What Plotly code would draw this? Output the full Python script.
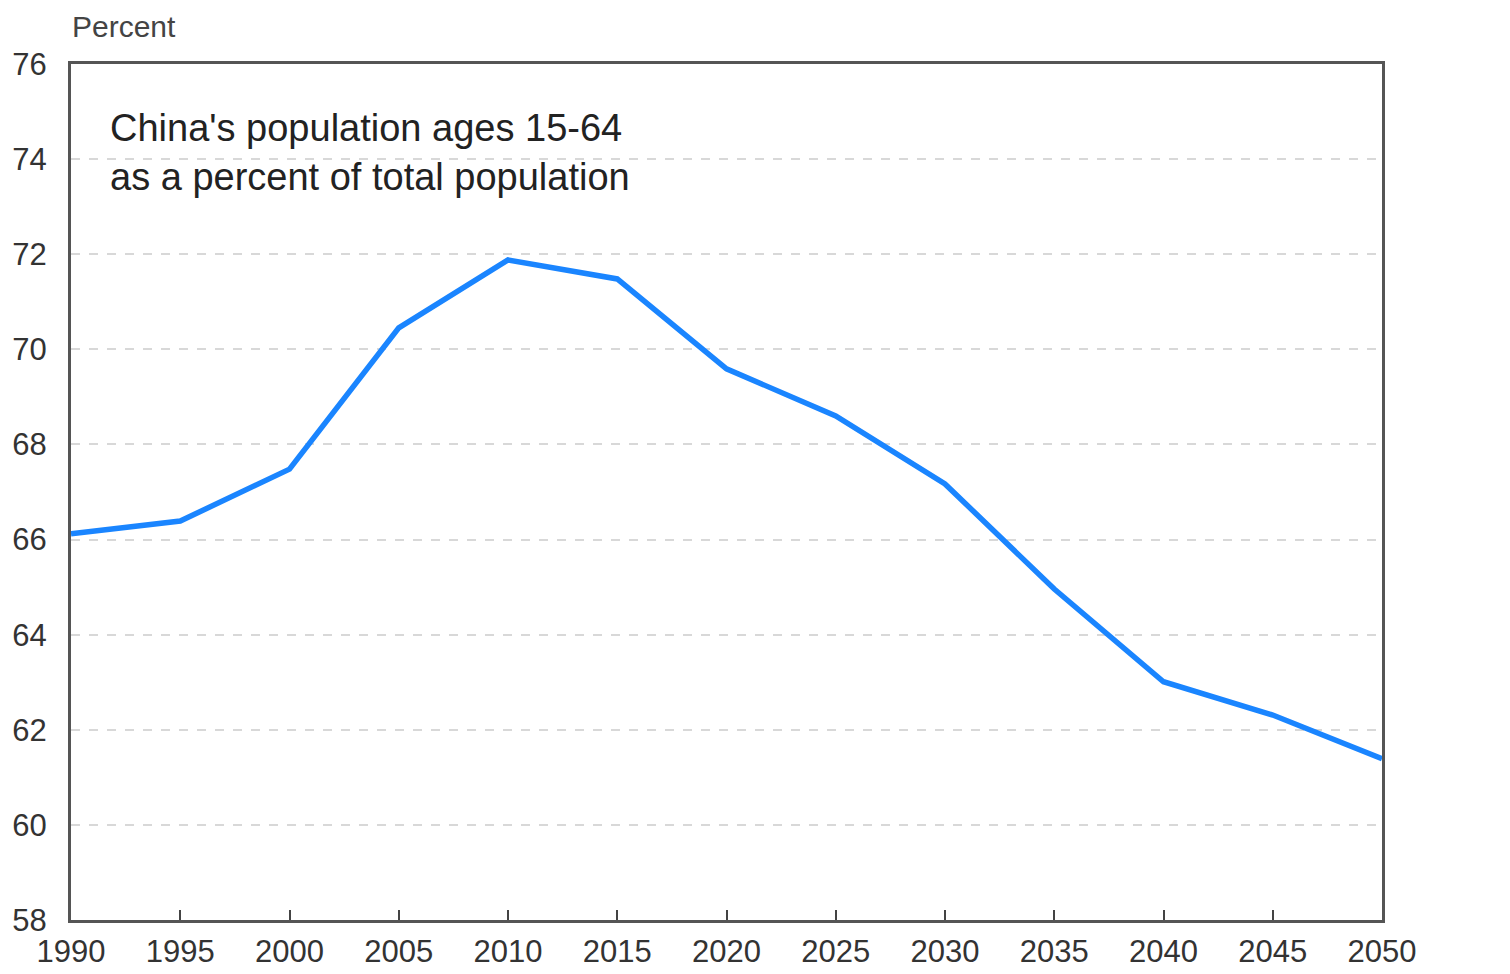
import plotly.graph_objects as go

years = [1990, 1995, 2000, 2005, 2010, 2015, 2020, 2025, 2030, 2035, 2040, 2045, 2050]
share_15_64 = [66.12, 66.39, 67.48, 70.45, 71.88, 71.48, 69.59, 68.6, 67.17, 64.96, 63.01, 62.31, 61.39]
x_ticks = list(range(1990, 2051, 5))
y_ticks = list(range(58, 77, 2))

FONT = "Liberation Sans, Arial, sans-serif"

fig = go.Figure()
fig.add_trace(go.Scatter(
    x=years, y=share_15_64, mode="lines",
    line=dict(color="#1a85ff", width=5.5),
    showlegend=False, cliponaxis=False,
))

fig.update_layout(
    width=1494, height=966,
    margin=dict(l=63, r=120, t=56, b=54, autoexpand=False),
    paper_bgcolor="white", plot_bgcolor="white",
    font=dict(family=FONT, size=30, color="#333333"),
)
fig.update_xaxes(
    range=[1990, 2050], tickvals=x_ticks, ticks="inside", ticklen=10, tickwidth=2,
    tickcolor="#444", showline=True, linecolor="#555", linewidth=3, mirror=True,
    showgrid=False, zeroline=False, tickfont=dict(size=31, color="#333"),
    automargin=False, ticklabelstandoff=2,
)
fig.update_yaxes(
    range=[58, 76], tickvals=y_ticks, ticks="", showline=True, linecolor="#555",
    linewidth=3, mirror=True, showgrid=True, gridcolor="#d8d8d8", griddash="dash",
    gridwidth=1.5, zeroline=False, tickfont=dict(size=31, color="#333"),
    automargin=False, ticklabelstandoff=15,
)
fig.add_annotation(
    xref="paper", yref="paper", x=0, y=1, xanchor="left", yanchor="bottom",
    text="Percent", showarrow=False, yshift=20, borderpad=0,
    font=dict(size=30, color="#444"),
)
fig.add_annotation(
    xref="paper", yref="paper", x=0.028, y=0.952, xanchor="left", yanchor="top",
    align="left",
    text="China's population ages 15-64<br>as a percent of total population",
    showarrow=False, font=dict(size=38, color="#222"),
)
fig.write_html("out.html")
